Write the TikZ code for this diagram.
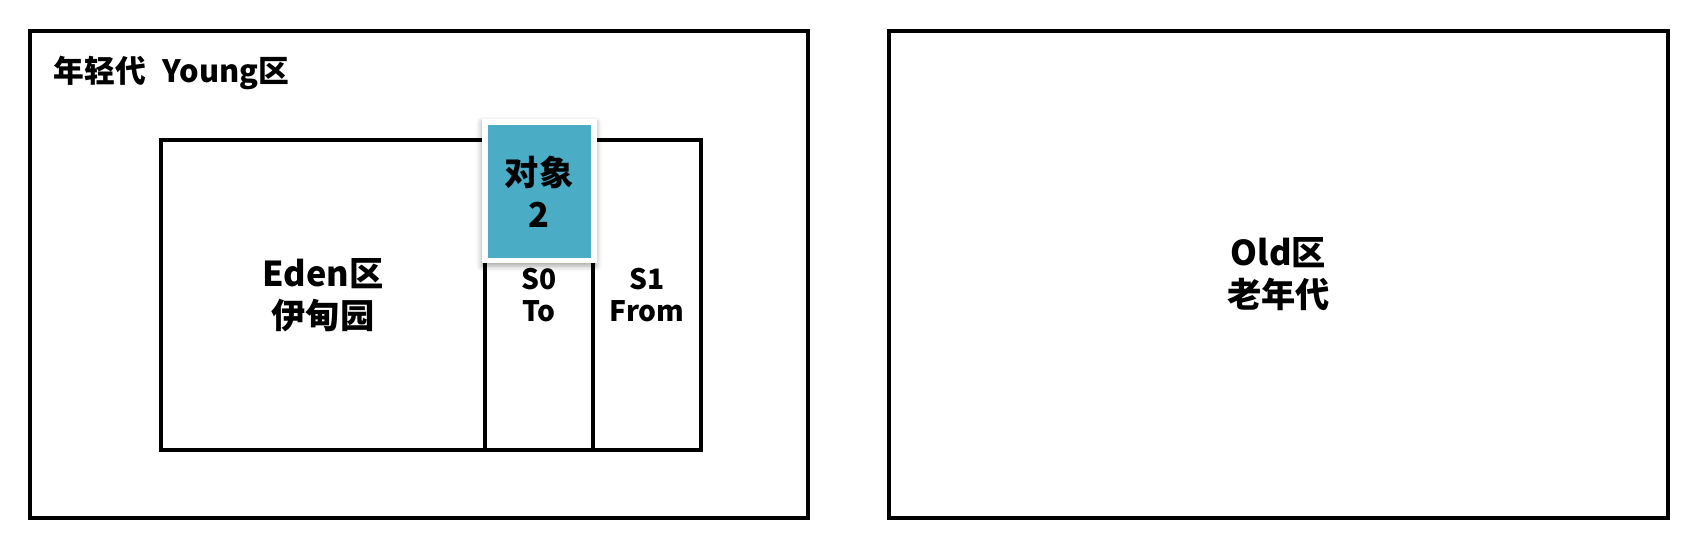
\documentclass[tikz,border=0pt]{standalone}
\usepackage{fontspec}
\setmainfont{Noto Sans CJK SC}
\usetikzlibrary{positioning,shadows,shadows.blur}
\definecolor{objblue}{HTML}{4BACC6}
\tikzset{
    area/.style = {
        draw,
        shape=rectangle,
        line width=2.4pt,
        inner sep=0pt,
        outer sep=0pt,
        align=center
    },
    heaptext/.style = {
        font=\fontsize{19.5pt}{24pt}\selectfont\bfseries
    },
    survtext/.style = {
        font=\fontsize{16pt}{18pt}\selectfont\bfseries
    },
    objframe/.style = {
        shape=rectangle,
        fill=white,
        inner sep=0pt,
        minimum width=2.3cm,
        minimum height=2.88cm,
        blur shadow={shadow xshift=0pt, shadow yshift=-1.5pt, shadow blur radius=3pt, shadow opacity=35}
    },
    objblock/.style = {
        shape=rectangle,
        fill=objblue,
        inner sep=0pt,
        align=center,
        minimum width=2.06cm,
        minimum height=2.66cm
    },
}
\begin{document}
\begin{tikzpicture}
                \useasboundingbox (0,0) rectangle (33.74,10.98);
                \node[area, minimum width=15.56cm, minimum height=9.74cm] (young) at (8.38,5.49) {};
                \node[area, minimum width=15.58cm, minimum height=9.74cm, heaptext] (old) at (25.57,5.49) {Old区\\老年代};
                \node[anchor=west, font=\fontsize{17.5pt}{20pt}\selectfont\bfseries] (younglabel) at (0.95,9.52) {年轻代\hspace{0.55em}Young区};

                \node[area, heaptext, minimum width=6.48cm, minimum height=6.2cm] (eden) at (6.46,5.08) {Eden区\\伊甸园};
                \node[area, survtext, minimum width=2.16cm, minimum height=6.2cm, right=0pt of eden] (s0) {S0\\To};
                \node[area, survtext, minimum width=2.16cm, minimum height=6.2cm, right=0pt of s0] (s1) {S1\\From};

                \node[objframe] (frame) at (10.78,7.15) {};
                \node[objblock, heaptext] (obj) at (frame.center) {对象\\2};
\end{tikzpicture}
\end{document}
